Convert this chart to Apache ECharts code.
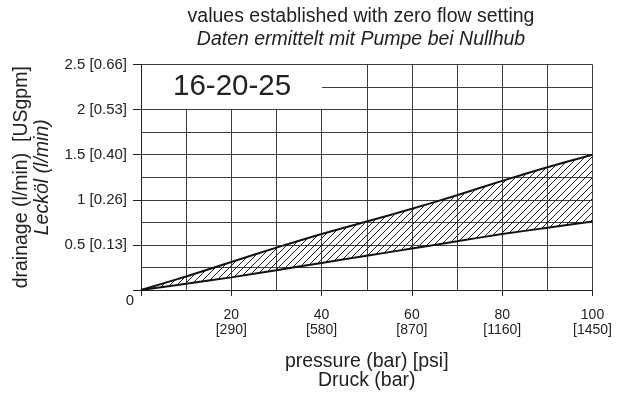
<!DOCTYPE html>
<html>
<head>
<meta charset="utf-8">
<script src="https://cdn.jsdelivr.net/npm/echarts@6/dist/echarts.min.js"></script>
<style>
  html, body { margin: 0; padding: 0; background: #fff; }
  #chart { width: 630px; height: 397px; }
</style>
</head>
<body>
<div id="chart"></div>
<script>
const pressure = ["0", "10", "20", "30", "40", "50", "60", "70", "80", "90", "100"];
const upperFlow = [0, 0.15, 0.31, 0.47, 0.62, 0.76, 0.90, 1.05, 1.21, 1.36, 1.5];
const lowerFlow = [0, 0.07, 0.14, 0.22, 0.30, 0.38, 0.46, 0.54, 0.62, 0.69, 0.76];
const psiLabels = ["", "", "[290]", "", "[580]", "", "[870]", "", "[1160]", "", "[1450]"];
const yTickLabels = ["0", "0.5 [0.13]", "1 [0.26]", "1.5 [0.40]", "2 [0.53]", "2.5 [0.66]"];

const font = "Liberation Sans, Arial, sans-serif";
const gridColor = "#3c3c3c";

// diagonal hatch for the band between the two curves
const makeHatch = () => {
	const c = document.createElement("canvas");
	c.width = 7;
	c.height = 7;
	const ctx = c.getContext("2d");
	ctx.strokeStyle = "#222";
	ctx.lineWidth = 1;
	ctx.beginPath();
	ctx.moveTo(0, 7); ctx.lineTo(7, 0);
	ctx.moveTo(-1, 1); ctx.lineTo(1, -1);
	ctx.moveTo(6, 8); ctx.lineTo(8, 6);
	ctx.stroke();
	return c;
};

// the hatched series sits on top of the lower curve
const bandData = upperFlow.map((v, i) => +(v - lowerFlow[i]).toFixed(3));

const chart = echarts.init(document.getElementById("chart"), null, { renderer: "canvas" });

const option = {
	animation: false,
	title: [
		{
			left: 361,
			top: 5,
			padding: 0,
			textAlign: "center",
			text: "values established with zero flow setting\n{i|Daten ermittelt mit Pumpe bei Nullhub}",
			textStyle: {
				fontFamily: font,
				fontSize: 19.5,
				fontWeight: "normal",
				color: "#222",
				lineHeight: 23,
				rich: {
					i: { fontFamily: font, fontSize: 19.5, fontStyle: "italic", color: "#222", lineHeight: 23 }
				}
			}
		},
		{
			left: 142,
			top: 65,
			text: "16-20-25",
			backgroundColor: "#fff",
			padding: [7, 31, 7, 31],
			textStyle: {
				fontFamily: font,
				fontSize: 29.5,
				fontWeight: "normal",
				color: "#222",
				lineHeight: 30
			}
		}
	],
	grid: {
		left: 141,
		right: 37.5,
		top: 64.5,
		bottom: 107,
		containLabel: false
	},
	xAxis: {
		type: "category",
		boundaryGap: false,
		data: pressure,
		name: "pressure (bar) [psi]\nDruck (bar)",
		nameLocation: "middle",
		nameGap: 62,
		nameTextStyle: { fontFamily: font, fontSize: 19.5, color: "#222", lineHeight: 19 },
		axisLine: { show: true, lineStyle: { color: "#222", width: 1 } },
		axisTick: { show: true, interval: 1, length: 6, lineStyle: { color: "#222" } },
		splitLine: { show: true, interval: 0, lineStyle: { color: gridColor, width: 1 } },
		axisLabel: {
			interval: 1,
			margin: 4.5,
			fontFamily: font,
			fontSize: 14,
			color: "#222",
			formatter: (v, idx) => {
				if (idx === 0) return "{z|" + v + "}";
				return "{e| }\n{a|" + v + "}\n{a|" + psiLabels[idx] + "}";
			},
			rich: {
				z: { fontFamily: font, fontSize: 15, color: "#222", lineHeight: 13, padding: [0, 22, 0, 0] },
				e: { fontFamily: font, fontSize: 10, color: "#222", lineHeight: 13 },
				a: { fontFamily: font, fontSize: 14, color: "#222", lineHeight: 15 }
			}
		}
	},
	yAxis: {
		type: "value",
		min: 0,
		max: 2.5,
		interval: 0.5,
		name: "drainage (l/min)  [USgpm]\n{i|Lecköl (l/min)}",
		nameLocation: "middle",
		nameRotate: 90,
		nameGap: 86,
		nameTextStyle: {
			fontFamily: font,
			fontSize: 19.5,
			color: "#222",
			lineHeight: 21,
			rich: {
				i: { fontFamily: font, fontSize: 19.5, fontStyle: "italic", color: "#222", lineHeight: 21 }
			}
		},
		axisLine: { show: true, lineStyle: { color: "#222", width: 1 } },
		axisTick: { show: true, length: 8, lineStyle: { color: "#222" } },
		minorTick: { show: false, splitNumber: 2 },
		splitLine: { show: true, lineStyle: { color: gridColor, width: 1 } },
		minorSplitLine: { show: true, lineStyle: { color: gridColor, width: 1 } },
		axisLabel: {
			margin: 14,
			fontFamily: font,
			fontSize: 15,
			color: "#222",
			formatter: (v) => (v === 0 ? "" : yTickLabels[Math.round(v / 0.5)])
		}
	},
	series: [
		{
			name: "lower",
			type: "line",
			stack: "flow",
			smooth: 0.3,
			symbol: "none",
			lineStyle: { color: "#111", width: 2 },
			data: lowerFlow,
			z: 3
		},
		{
			name: "band",
			type: "line",
			stack: "flow",
			smooth: 0.3,
			symbol: "none",
			lineStyle: { color: "#111", width: 2 },
			areaStyle: { color: { image: makeHatch(), repeat: "repeat" }, opacity: 1 },
			data: bandData,
			z: 2
		}
	]
};

chart.setOption(option);
window.addEventListener("resize", chart.resize);
</script>
</body>
</html>
